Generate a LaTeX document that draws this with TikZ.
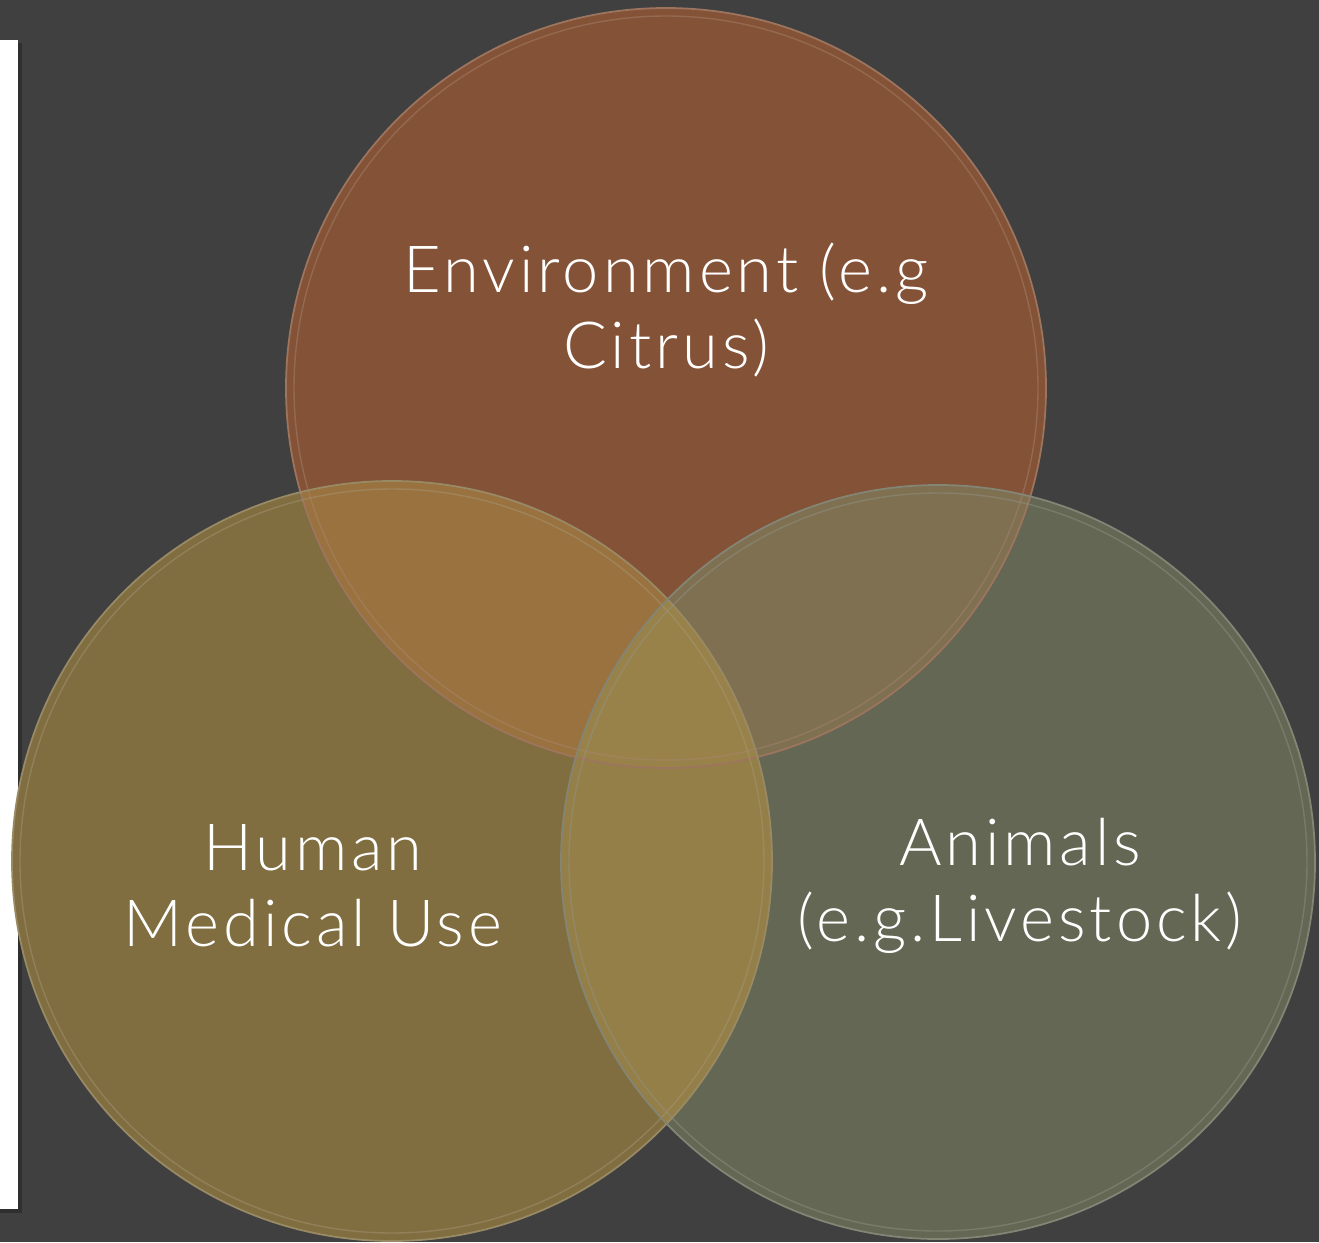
\documentclass[tikz,border=0pt]{standalone}
\usepackage{fontspec}
\setmainfont{Lato}[UprightFont=* Light, LetterSpace=6]
\usetikzlibrary{positioning}

\definecolor{slidegray}{HTML}{404040}
\definecolor{envfill}{HTML}{845236}
\definecolor{humfill}{HTML}{806D40}
\definecolor{anifill}{HTML}{646753}
\definecolor{envhum}{HTML}{9A723F}
\definecolor{envani}{HTML}{7F7052}
\definecolor{humani}{HTML}{947F48}
\definecolor{allthree}{HTML}{98824A}

\begin{document}
\begin{tikzpicture}[
      x=.02cm, y=-.02cm,
      line width=.6pt,
      venntext/.style={text=white, align=center,
        font=\fontsize{37}{43}\selectfont},
      rim/.style={draw=#1!80!white, line width=1pt},
      innerrim/.style={draw=#1!70!white, opacity=.45, line width=.8pt}]

    % background & left strip
    \fill[slidegray] (0,0) rectangle (1319,1242);
    \useasboundingbox (0,0) rectangle (1319,1242);
    \fill[black, opacity=.25] (0,43) rectangle (22,1213);
    \fill[white] (0,40) rectangle (18,1209);

    % circle centres
    \coordinate (env) at (666,388);
    \coordinate (hum) at (392,861);
    \coordinate (ani) at (938,862);

    % circles
    \fill[envfill] (env) circle (380);
    \fill[humfill] (hum) circle (380);
    \fill[anifill] (ani) circle (377);

    % overlaps
    \begin{scope}
      \clip (env) circle (380);
      \fill[envhum] (hum) circle (380);
      \fill[envani] (ani) circle (377);
    \end{scope}
    \begin{scope}
      \clip (hum) circle (380);
      \fill[humani] (ani) circle (377);
      \clip (ani) circle (377);
      \fill[allthree] (env) circle (380);
    \end{scope}

    % rims
    \draw[rim=envfill] (env) circle (380);
    \draw[innerrim=envfill] (env) circle (372);
    \draw[rim=humfill] (hum) circle (380);
    \draw[innerrim=humfill] (hum) circle (372);
    \draw[rim=anifill] (ani) circle (377);
    \draw[innerrim=anifill] (ani) circle (369);

    % labels
    \node[venntext] (envtext) at (666,310) {Environment (e.g\\Citrus)};
    \node[venntext] (humtext) at (313,886) {Human\\Medical Use};
    \node[venntext] (anitext) at (1020,886) {Animals\\(e.g.Livestock)};

\end{tikzpicture}
\end{document}
